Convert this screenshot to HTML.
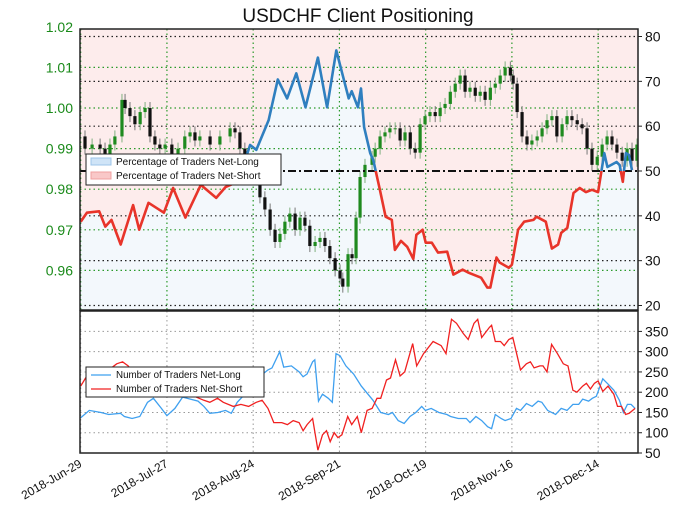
<!DOCTYPE html>
<html><head><meta charset="utf-8"><style>
body{margin:0;background:#fff;}
svg{font-family:"Liberation Sans","DejaVu Sans",sans-serif;}
</style></head><body>
<svg id="c" width="679" height="517" viewBox="0 0 679 517" xmlns="http://www.w3.org/2000/svg"></svg>
<script>
const priceTicks=[1.02,1.01,1.00,0.99,0.98,0.97,0.96];
const pctTicks=[80,70,60,50,40,30,20];
const countTicks=[350,300,250,200,150,100,50];
const dateLabels=["2018-Jun-29","2018-Jul-27","2018-Aug-24","2018-Sep-21","2018-Oct-19","2018-Nov-16","2018-Dec-14"];
const dateDays=[0,28,56,84,112,140,168];
const priceDays=[0,1.4,3.7,6.3,7.9,9.5,11.1,13.4,14.4,16,17.6,19.3,20.9,22.5,24.1,25.7,27.4,29.6,31.6,33.8,35.5,37.1,38.7,42,45.2,48.5,50.1,51.7,53.3,55,56.6,58.2,59.8,61.5,63.1,64.7,66.3,67.9,69.6,71.2,72.8,74.4,76.1,77.7,79.3,80.9,82.6,84.2,85.1,86.8,88.1,89.4,90.7,92.3,94.6,95.6,97.2,98.8,100.4,102.1,103.7,105.3,107,108.6,110.2,111.8,113.4,115.1,116.7,118.3,120,121.6,123.2,124.8,126.4,128.1,129.7,131.3,133,134.6,136.2,137.8,139.5,140.4,141.7,143.3,144.9,146.5,148.2,149.8,151.4,153,154.6,156.3,157.9,159.5,161.2,162.8,164.4,166,167.7,169.3,170.9,172.5,174.1,175.8,177.4,179,180.6];
const closes=[0.993,0.990,0.991,0.990,0.988,0.991,0.993,1.002,1.000,0.998,0.996,0.999,1.000,0.993,0.991,0.990,0.991,0.988,0.990,0.993,0.994,0.992,0.993,0.991,0.993,0.995,0.994,0.990,0.987,0.984,0.983,0.978,0.975,0.970,0.967,0.969,0.972,0.974,0.970,0.973,0.971,0.966,0.967,0.968,0.966,0.963,0.960,0.958,0.956,0.964,0.963,0.973,0.983,0.986,0.988,0.990,0.993,0.994,0.995,0.995,0.992,0.994,0.990,0.989,0.996,0.998,0.999,0.998,1.000,1.001,1.004,1.006,1.008,1.004,1.005,1.003,1.004,1.002,1.005,1.006,1.008,1.010,1.008,1.006,0.999,0.993,0.991,0.992,0.993,0.995,0.997,0.998,0.993,0.996,0.998,0.997,0.996,0.995,0.990,0.986,0.988,0.991,0.993,0.991,0.989,0.987,0.990,0.987,0.991];
const pctDays=[0,2,6,8,10,13,17,19,22,27,30,34,39,44,47,50,52,55,57,61,64,67,70,73,77,80,83,87,88,90,91,92,94,95,97,99,101,102,104,106,108,109,111,112,114,116,119,121,124,126,130,132,133,135,136,139,140,142,144,147,148,151,153,155,156,158,160,162,164,166,168,170,171,174,175,176,177,178,179];
const pctLong=[38.7,40.7,41,37.6,39.1,33.6,42.4,36.9,42.9,40.7,46.2,39.6,46.9,44,46.4,47.3,49.5,55.8,54.7,61.3,70.4,66.2,71.8,64.2,75.3,64.2,76.9,66.2,67.8,64.2,68.4,59.8,54,52.4,46.2,39.8,39.1,32.4,34.4,33.1,30.4,35.8,36.9,34,34,31.8,32,26.9,28,27.3,26.2,24,24,30.7,29.6,28.4,29.1,36.9,38.7,39.1,39.8,38.7,32.7,33.6,36.2,37.3,45.1,46.2,45.3,45.8,45.3,54,50.9,52,51.3,47.6,54,53.6,50.2];
const longDays=[0,2.8,6.6,9.1,12.9,14.2,16.7,19.2,21.7,23.6,26.2,28,30.6,33.1,35.6,38.1,40,41.9,44.5,47,48.9,50.8,53.3,55.8,58.3,60.8,62.1,64.6,65.9,68.4,70.9,72.2,73.5,75.3,76,77.2,78.5,80.4,81.7,82.9,84.2,86.1,88.6,91.1,94.9,97.4,99.9,101.2,103.1,105,106.9,108.8,110.7,111.9,113.8,116.3,118.9,120.1,122.6,125.2,126.4,128.3,130.2,132.1,133.4,134.6,136.5,137.8,139.7,141.5,142.8,144.7,146.6,148.5,149.7,151.6,154.2,156,157.9,159.8,161.7,163,164.9,166.1,167.4,169.5,171.2,173.1,174.9,176.2,177.5,178.7,180];
const longCount=[137,155,150,145,148,140,135,140,175,185,160,142,160,188,183,178,165,148,150,155,148,175,195,225,240,255,260,300,262,265,250,238,245,275,280,178,195,185,175,295,290,265,245,215,180,150,145,150,130,123,140,150,165,155,160,150,145,140,135,135,125,140,130,115,110,145,135,130,135,160,155,172,165,178,175,155,145,160,155,170,170,183,178,185,190,233,220,205,180,150,170,170,160];
const shortDays=[0,1.6,4.1,6.6,9.1,11.7,13.6,15.4,18,21.8,25.5,29.3,33.1,36.9,40,41.9,44.4,46.3,49.5,52,54.5,57,58.9,60.8,62.7,65.3,67.1,69,70.9,72.2,73.5,75.3,77,78.5,79.8,81,82.3,83.5,84.8,86.7,88,89.8,91.1,93,94.6,96.2,97.4,99.3,100.6,102.2,103.7,105.2,107.8,109.1,111.3,114.4,117,118.6,120.4,122,124.2,125.8,127.7,128.9,130.2,132.7,133.4,134.6,136.3,137.5,139,140.3,142.8,144.7,146,147.2,149.1,150.1,151.4,152.9,154.8,156.7,158.2,159.8,161.1,163,164.2,165.5,166.8,168,169.5,171.2,173.1,174.3,175.6,176.9,178.1,180];
const shortCount=[215,235,240,250,255,270,275,265,240,230,215,205,200,190,180,175,185,175,165,170,165,175,180,160,125,125,120,130,125,105,120,135,57,95,105,78,100,88,95,140,120,140,100,155,160,185,185,230,235,280,240,250,320,265,295,325,315,295,380,370,345,330,370,380,335,360,365,325,325,315,330,335,255,270,275,260,265,265,250,318,295,270,265,205,200,215,222,208,222,228,202,215,195,165,165,145,148,160];

const NS="http://www.w3.org/2000/svg";
const svg=document.getElementById('c');
function mk(tag,attrs,parent){const e=document.createElementNS(NS,tag);for(const k in attrs)e.setAttribute(k,attrs[k]);(parent||svg).appendChild(e);return e;}
const L=80,R=638,T1=29,B1=310,T2=311,B2=453;
const xD=d=>80.7+d*3.08;
const yP=p=>108+(1.0-p)*4060;
const yPct=v=>171-(v-50)*4.483;
const yC=v=>453-(v-50)*0.4053;

const defs=mk('defs',{});
const c1=mk('clipPath',{id:'top'},defs);mk('rect',{x:L,y:T1,width:R-L,height:B1-T1},c1);
const cA=mk('clipPath',{id:'above'},defs);mk('rect',{x:L,y:T1,width:R-L,height:yPct(50)-T1},cA);
const cB=mk('clipPath',{id:'below'},defs);mk('rect',{x:L,y:yPct(50),width:R-L,height:B1-yPct(50)},cB);

let g=mk('g',{'clip-path':'url(#top)'});

let r=mk('rect',{x:L,y:T1,width:R-L,height:B1-T1,fill:'#fdecec'},g);

let pts=pctDays.map((d,i)=>xD(d).toFixed(1)+','+yPct(pctLong[i]).toFixed(1));
let poly=mk('polygon',{points:L+','+B1+' '+L+','+yPct(pctLong[0])+' '+pts.join(' ')+' '+R+','+yPct(pctLong[pctLong.length-1])+' '+R+','+B1,fill:'#f3f8fc'},g);


pctTicks.forEach(v=>{if(v===50)return;const y=yPct(v);let l=mk('line',{x1:L,x2:R,y1:y,y2:y,stroke:'#222','stroke-width':1.2,'stroke-dasharray':'1.5,3'});});
priceTicks.forEach(v=>{const y=yP(v);if(y<T1)return;let l=mk('line',{x1:L,x2:R,y1:y,y2:y,stroke:'#2a9a2a','stroke-width':1.2,'stroke-dasharray':'1.5,3'});});
dateDays.forEach(d=>{const x=xD(d);let l=mk('line',{x1:x,x2:x,y1:T1,y2:B1,stroke:'#2a9a2a','stroke-width':1.2,'stroke-dasharray':'1.5,3'});
 let l2=mk('line',{x1:x,x2:x,y1:T2,y2:B2,stroke:'#999','stroke-width':1,'stroke-dasharray':'1.5,3'});});
countTicks.forEach(v=>{if(v===50)return;const y=yC(v);let l=mk('line',{x1:L,x2:R,y1:y,y2:y,stroke:'#999','stroke-width':1,'stroke-dasharray':'1.5,3'});});

const cg=mk('g',{'clip-path':'url(#top)'});

for(let i=1;i<closes.length;i++){
 const x=xD(priceDays[i]),o=closes[i-1],c=closes[i];
 const up=c>=o,col=up?'#1f8a1f':'#111';
 const yt=yP(Math.max(o,c)),yb=yP(Math.min(o,c));
 let w=mk('line',{x1:x,x2:x,y1:yt-6,y2:yb+6,stroke:up?'#7fb07f':'#777','stroke-width':1},cg);
 
 let b=mk('rect',{x:x-1.6,y:yt,width:3.2,height:Math.max(1,yb-yt),fill:col},cg);
 
}
let fl=mk('line',{x1:L,x2:R,y1:yPct(50),y2:yPct(50),stroke:'#111','stroke-width':2,'stroke-dasharray':'8,3,2,3'});

const pstr=pts.join(' ');
let pa=mk('polyline',{points:pstr,fill:'none',stroke:'#2f7fbf','stroke-width':2.6,'clip-path':'url(#above)','stroke-linejoin':'round'});

let pb=mk('polyline',{points:pstr,fill:'none',stroke:'#e8342a','stroke-width':2.6,'clip-path':'url(#below)','stroke-linejoin':'round'});


let lp=mk('polyline',{points:longDays.map((d,i)=>xD(d).toFixed(1)+','+yC(longCount[i]).toFixed(1)).join(' '),fill:'none',stroke:'#3fa0ef','stroke-width':1.3});

let sp=mk('polyline',{points:shortDays.map((d,i)=>xD(d).toFixed(1)+','+yC(shortCount[i]).toFixed(1)).join(' '),fill:'none',stroke:'#f02020','stroke-width':1.3});


let f1=mk('rect',{x:L,y:T1,width:R-L,height:B1-T1,fill:'none',stroke:'#222','stroke-width':1.5});

let f2=mk('rect',{x:L,y:T2,width:R-L,height:B2-T2,fill:'none',stroke:'#222','stroke-width':1.5});


priceTicks.forEach(v=>{let t=mk('text',{x:73,y:yP(v)+5,'text-anchor':'end','font-size':14,fill:'#1a8a1a'});t.textContent=v.toFixed(2);});
pctTicks.forEach(v=>{let t=mk('text',{x:645,y:yPct(v)+5,'font-size':14,fill:'#111'});t.textContent=v;
 let k=mk('line',{x1:R,x2:R+4,y1:yPct(v),y2:yPct(v),stroke:'#222'});});
countTicks.forEach(v=>{let t=mk('text',{x:645,y:yC(v)+5,'font-size':14,fill:'#111'});t.textContent=v;
 let k=mk('line',{x1:R,x2:R+4,y1:yC(v),y2:yC(v),stroke:'#222'});});
dateLabels.forEach((s,i)=>{const x=xD(dateDays[i]);let t=mk('text',{x:x+2,y:466,'text-anchor':'end','font-size':12,fill:'#111',transform:'rotate(-30 '+(x+2)+' 466)'});t.textContent=s;});

let tt=mk('text',{x:358,y:22,'text-anchor':'middle','font-size':19,fill:'#111'});tt.textContent='USDCHF Client Positioning';


let lg=mk('g',{});
mk('rect',{x:86,y:154,width:195,height:31,fill:'#fff',stroke:'#222','stroke-width':1},lg);
mk('rect',{x:91,y:158,width:20,height:7,fill:'#cfe4f7',stroke:'#9cc4ea'},lg);
mk('rect',{x:91,y:172,width:20,height:7,fill:'#f9c8c8',stroke:'#f0a0a0'},lg);
let a=mk('text',{x:116,y:165,'font-size':10,fill:'#111'},lg);a.textContent='Percentage of Traders Net-Long';

let b2=mk('text',{x:116,y:179,'font-size':10,fill:'#111'},lg);b2.textContent='Percentage of Traders Net-Short';


let lg2=mk('g',{});
mk('rect',{x:86,y:367,width:178,height:30,fill:'#fff',stroke:'#222','stroke-width':1},lg2);
mk('line',{x1:91,x2:111,y1:375,y2:375,stroke:'#3fa0ef','stroke-width':1.3},lg2);
mk('line',{x1:91,x2:111,y1:389,y2:389,stroke:'#f02020','stroke-width':1.3},lg2);
let c3=mk('text',{x:116,y:378,'font-size':9.8,fill:'#111'},lg2);c3.textContent='Number of Traders Net-Long';

let c4=mk('text',{x:116,y:392,'font-size':9.8,fill:'#111'},lg2);c4.textContent='Number of Traders Net-Short';

</script>
</body></html>
